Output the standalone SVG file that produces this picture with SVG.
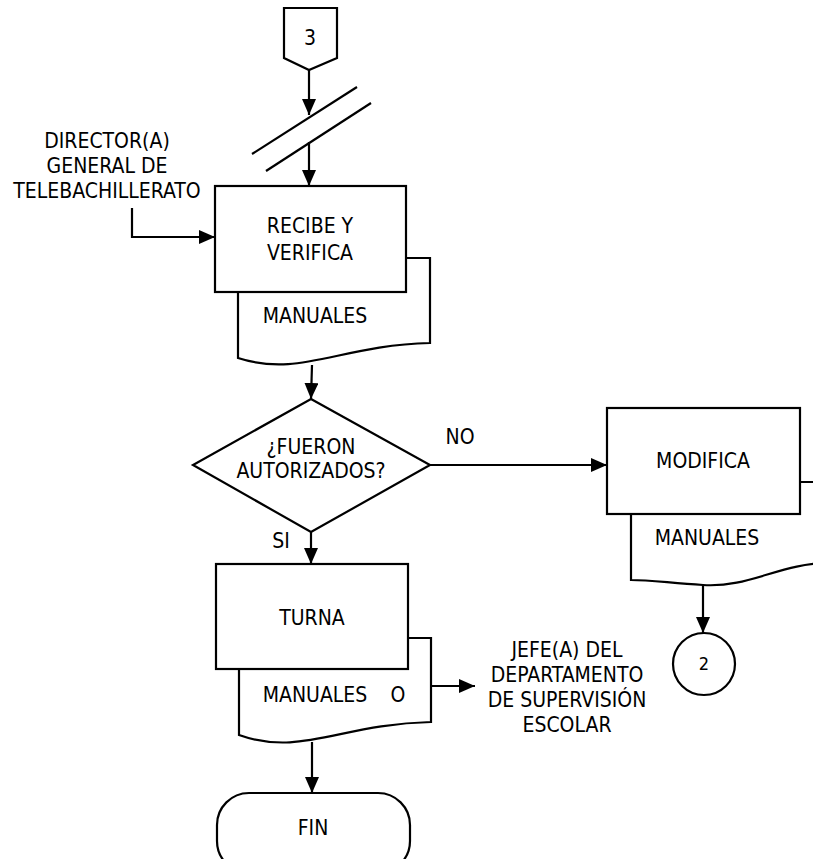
<svg xmlns="http://www.w3.org/2000/svg" width="813" height="859" viewBox="0 0 813 859">
<style>
.s{fill:#fff;stroke:#000;stroke-width:2.2}
.l{fill:none;stroke:#000;stroke-width:2.2}
text{font-family:"DejaVu Sans Condensed","DejaVu Sans","Liberation Sans",sans-serif;font-stretch:condensed;font-size:21px;fill:#000;text-anchor:middle}
</style>
<defs>
<marker id="a" markerUnits="userSpaceOnUse" markerWidth="16" markerHeight="14" refX="16" refY="7" orient="auto">
<path d="M0,0 L16,7 L0,14 z" fill="#000"/>
</marker>
</defs>
<rect width="813" height="859" fill="#fff"/>
<g id="connectors">
<line class="l" x1="309" y1="70" x2="309" y2="115" marker-end="url(#a)"/>
<line class="l" x1="252" y1="154" x2="357" y2="87"/>
<line class="l" x1="266" y1="171" x2="371" y2="103"/>
<line class="l" x1="309" y1="142" x2="309" y2="186" marker-end="url(#a)"/>
<polyline class="l" points="132,208 132,237 215,237" marker-end="url(#a)"/>
<line class="l" x1="312" y1="365" x2="311" y2="399" marker-end="url(#a)"/>
<line class="l" x1="430" y1="465" x2="607" y2="465" marker-end="url(#a)"/>
<line class="l" x1="311" y1="532" x2="311" y2="564" marker-end="url(#a)"/>
<line class="l" x1="703" y1="585" x2="703" y2="633" marker-end="url(#a)"/>
<line class="l" x1="431" y1="686" x2="475" y2="686" marker-end="url(#a)"/>
<line class="l" x1="312" y1="742" x2="312" y2="793" marker-end="url(#a)"/>
</g>
<g id="offpage3">
<path class="s" d="M284,8 H337 V58 L309,70 L284,58 Z"/>
<text x="310" y="45">3</text>
</g>
<g id="label-director">
<text x="107" y="148">DIRECTOR(A)</text>
<text x="107" y="173">GENERAL DE</text>
<text x="107" y="198">TELEBACHILLERATO</text>
</g>
<g id="recibe">
<path class="s" d="M238,258 H430 V343 C340,345 300,378 238,358 Z"/>
<rect class="s" x="215" y="186" width="191" height="106"/>
<text x="310" y="233">RECIBE Y</text>
<text x="310" y="260">VERIFICA</text>
<text x="315" y="323">MANUALES</text>
</g>
<g id="decision">
<path class="s" d="M311,399 L430,465 L311,532 L193,465 Z"/>
<text x="311" y="454">¿FUERON</text>
<text x="311" y="478">AUTORIZADOS?</text>
<text x="460" y="444">NO</text>
<text x="281" y="548">SI</text>
</g>
<g id="modifica">
<path class="s" d="M631,482 H830 V563 C780,563 750,588 703,585 C670,583 650,580 631,580 Z"/>
<rect class="s" x="607" y="408" width="193" height="106"/>
<text x="703" y="468">MODIFICA</text>
<text x="707" y="545">MANUALES</text>
</g>
<g id="connector2">
<circle class="s" cx="704" cy="664" r="31"/>
<text x="704" y="670" style="font-size:18px">2</text>
</g>
<g id="turna">
<path class="s" d="M239,638 H431 V722 C341,724 301,757 239,735 Z"/>
<rect class="s" x="216" y="564" width="192" height="105"/>
<text x="312" y="625">TURNA</text>
<text x="315" y="702">MANUALES</text>
<text x="398" y="702">O</text>
</g>
<g id="label-jefe">
<text x="567" y="657">JEFE(A) DEL</text>
<text x="567" y="682">DEPARTAMENTO</text>
<text x="567" y="707">DE SUPERVISIÓN</text>
<text x="567" y="732">ESCOLAR</text>
</g>
<g id="fin">
<rect class="s" x="217" y="793" width="193" height="80" rx="32" ry="32"/>
<text x="313" y="835">FIN</text>
</g>
</svg>
